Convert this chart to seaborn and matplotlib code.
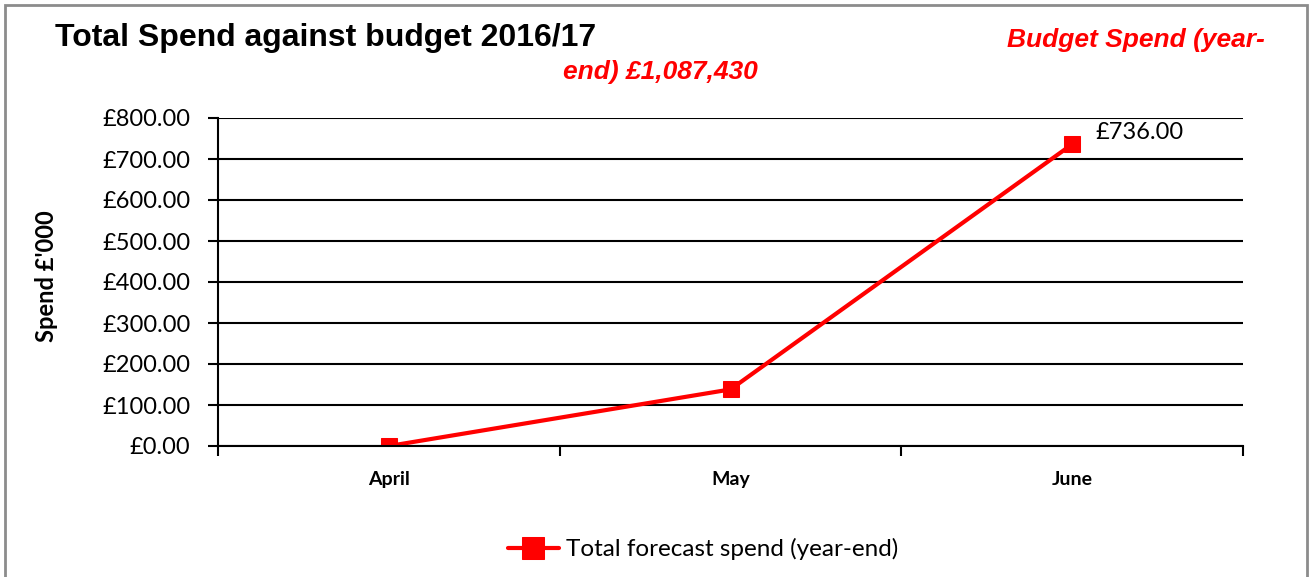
import matplotlib
matplotlib.use("Agg")
import matplotlib.pyplot as plt
import seaborn as sns
import pandas as pd
from matplotlib.ticker import FuncFormatter, FixedLocator
from matplotlib.patches import Rectangle

months = ["April", "May", "June"]
spend = [0.0, 138.0, 736.0]
series_name = "Total forecast spend (year-end)"
y_ticks = [0, 100, 200, 300, 400, 500, 600, 700, 800]

sns.set_theme(style="white")
plt.rcParams['font.family'] = ['Lato', 'DejaVu Sans']
plt.rcParams.update({"text.color": "black", "axes.labelcolor": "black",
                     "xtick.color": "black", "ytick.color": "black"})

df = pd.DataFrame({"Month": months, "Spend": spend, "pos": range(len(months))})

fig = plt.figure(figsize=(13.12, 5.77), dpi=100)
ax = fig.add_axes([218/1312, 1-446/577, (1243-218)/1312, (446-118)/577])

sns.lineplot(data=df, x="pos", y="Spend", ax=ax, color="#ff0000", linewidth=3,
             marker="s", markersize=11, markeredgecolor="#ff0000", label=series_name)

ax.set_xlim(-0.5, 2.5)
ax.set_ylim(0, 800)
ax.set_yticks(y_ticks)
ax.yaxis.set_major_formatter(FuncFormatter(lambda v, p: f"£{v:,.2f}"))
ax.set_xticks(range(len(months)))
ax.set_xticklabels(months, fontsize=14, fontweight="bold", color="black")
ax.xaxis.set_minor_locator(FixedLocator([-0.5, 0.5, 1.5, 2.5]))
ax.tick_params(axis="x", which="major", length=0, pad=18)
ax.tick_params(axis="x", which="minor", length=7, width=1.5, color="black", direction="out", bottom=True)
ax.tick_params(axis="y", which="major", length=7, width=1.5, color="black", labelcolor="black",
               direction="out", left=True, labelsize=17, pad=13)
ax.grid(axis="y", color="black", linewidth=1.5)
ax.set_axisbelow(True)
for s in ["top", "right"]:
    ax.spines[s].set_visible(False)
for s in ["left", "bottom"]:
    ax.spines[s].set_color("black")
    ax.spines[s].set_linewidth(1.5)
ax.set_xlabel("")
ax.set_ylabel("Spend £'000", fontsize=17, fontweight="bold", va="center", color="black")
ax.yaxis.set_label_coords((47-218)/1025, (446-276)/328)

ax.annotate(f"£{spend[2]:,.2f}", xy=(2, spend[2]), xytext=(16.5, 8.5), textcoords="offset points",
            fontsize=17, ha="left", va="center", color="black")

leg = ax.legend(loc="center", frameon=False, fontsize=17.5, handlelength=2.1,
                markerscale=1.4, handletextpad=0.3, labelcolor="black")
leg.set_bbox_to_anchor((703/1312, 1-549/577), transform=fig.transFigure)

fig.text(55/1312, 1-38/577, "Total Spend against budget 2016/17", fontsize=23, fontweight="bold",
         family="Liberation Sans", ha="left", va="center", color="black")
fig.text(1265/1312, 1-40/577, "Budget Spend (year-", fontsize=19, fontweight="bold", fontstyle="italic",
         family="Liberation Sans", color="#ff0000", ha="right", va="center")
fig.text(660/1312, 1-72/577, "end) £1,087,430", fontsize=19, fontweight="bold", fontstyle="italic",
         family="Liberation Sans", color="#ff0000", ha="center", va="center")

fig.patches.append(Rectangle((5/1312, -0.05), 1302/1312, 1.05 - 5/577, transform=fig.transFigure,
                             fill=False, edgecolor="#8c8c8c", linewidth=2))

fig.savefig("out.png", dpi=100)
